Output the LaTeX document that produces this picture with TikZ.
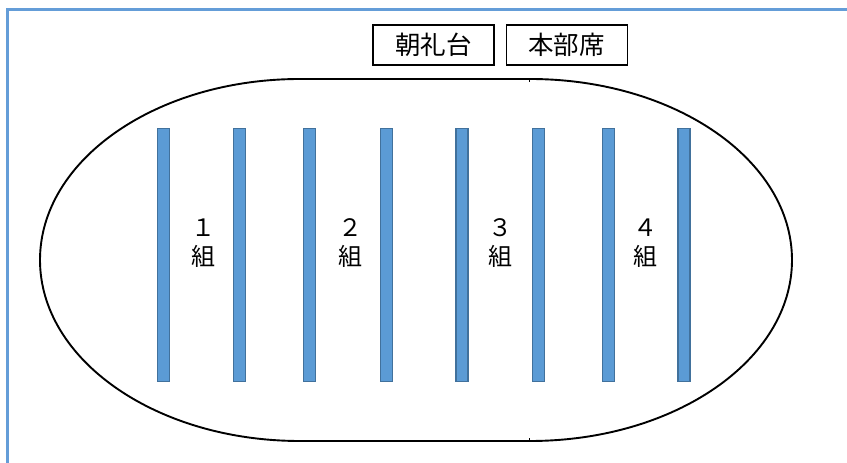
\documentclass[tikz,border=0pt]{standalone}
\usepackage{fontspec}
\newfontfamily\jpfont{Noto Sans CJK JP}
\definecolor{barfill}{RGB}{91,155,213}
\definecolor{bardraw}{RGB}{65,113,156}
\definecolor{framecol}{RGB}{100,157,216}

\begin{document}
\begin{tikzpicture}[x=1pt,y=1pt,font=\jpfont\fontsize{24}{29}\selectfont]
    \tikzstyle{bar}=[rectangle,draw=bardraw,fill=barfill,line width=1.8pt,minimum width=12pt,minimum height=253pt,inner sep=0pt]
    \tikzstyle{seat}=[rectangle,draw,line width=1.4pt,minimum width=121pt,minimum height=40pt,inner sep=0pt,font=\jpfont\fontsize{25.5}{30}\selectfont]
    \tikzstyle{group}=[align=center,inner sep=0pt]
    \useasboundingbox (0,0) rectangle (847,463);

    % Frame
    \draw[framecol,line width=2.2pt] (7.5,0) -- (7.5,453.5) -- (847,453.5);

    % Track
    \draw[line width=1.9pt] (300,384) -- (530,384)
        arc[start angle=90,end angle=-90,x radius=262pt,y radius=181pt]
        -- (300,22)
        arc[start angle=270,end angle=90,x radius=260pt,y radius=181pt] -- cycle;
    \draw[line width=0.8pt] (529.5,384) -- (529.5,381);
    \draw[line width=0.8pt] (529.5,22) -- (529.5,25);

    \path
    % Seats
    (433.5,418) node[seat] (chorei) {朝礼台}
    (566.7,418) node[seat] (honbu) {本部席}

    % Lines
    (163.5,208) node[bar] (bar1) {}
    (239.5,208) node[bar] (bar2) {}
    (309.5,208) node[bar] (bar3) {}
    (386.5,208) node[bar] (bar4) {}
    (462,208)   node[bar] (bar5) {}
    (538.5,208) node[bar] (bar6) {}
    (608.5,208) node[bar] (bar7) {}
    (684,208)   node[bar] (bar8) {}

    % Groups
    (203,220) node[group] (group1) {１\\組}
    (350,220) node[group] (group2) {２\\組}
    (500,220) node[group] (group3) {３\\組}
    (645,220) node[group] (group4) {４\\組};
\end{tikzpicture}
\end{document}
